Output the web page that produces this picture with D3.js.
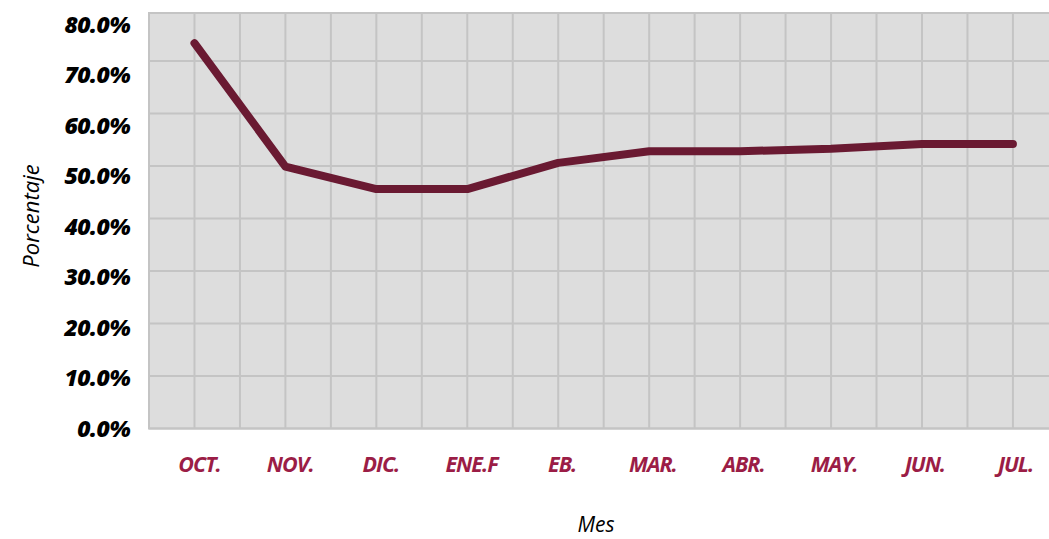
<!DOCTYPE html>
<html>
<head>
<meta charset="utf-8">
<script src="https://cdn.jsdelivr.net/npm/d3@7"></script>
<style>
  html, body { margin: 0; padding: 0; background: #ffffff; }
  svg { display: block; }
</style>
</head>
<body>
<svg id="chart" width="1049" height="539"></svg>
<script>
// ---- data ----
const months = ["OCT.", "NOV.", "DIC.", "ENE.F", "EB.", "MAR.", "ABR.", "MAY.", "JUN.", "JUL."];
const values = [73.4, 49.9, 45.6, 45.6, 50.6, 52.8, 52.8, 53.3, 54.2, 54.2];
const yTicks = [0, 10, 20, 30, 40, 50, 60, 70, 80];
const yTitle = "Porcentaje";
const xTitle = "Mes";

// ---- layout ----
const W = 1049, H = 539;
const plotLeft = 149, plotTop = 13, plotBottom = 428.5, plotRight = W;
const svg = d3.select("#chart");

const x = d3.scalePoint().domain(months).range([plotLeft, plotLeft + 20 * 45.47]).padding(0.5);
const step = x.step();
const y = d3.scaleLinear().domain([0, 80]).range([plotBottom, 8.5]);
const yLab = d3.scaleLinear().domain([0, 80]).range([428, 24]);
const xLab = d3.scalePoint().domain(months).range([199, 1015]);

// background
svg.append("rect")
  .attr("x", plotLeft).attr("y", plotTop)
  .attr("width", plotRight - plotLeft + 5).attr("height", plotBottom - plotTop)
  .attr("fill", "#dddddd")
  .attr("stroke", "#c4c4c4").attr("stroke-width", 2);

// vertical gridlines: at each category and between categories
const vLines = [];
months.forEach(m => { vLines.push(x(m) - step / 2); vLines.push(x(m)); });
svg.append("g").selectAll("line").data(vLines.filter(v => v > plotLeft + 1)).join("line")
  .attr("x1", d => d).attr("x2", d => d)
  .attr("y1", plotTop).attr("y2", plotBottom)
  .attr("stroke", "#c4c4c4").attr("stroke-width", 2);

// horizontal gridlines
svg.append("g").selectAll("line").data(yTicks.filter(t => y(t) > plotTop + 1)).join("line")
  .attr("x1", plotLeft).attr("x2", plotRight)
  .attr("y1", d => y(d)).attr("y2", d => y(d))
  .attr("stroke", "#c4c4c4").attr("stroke-width", 2);

// y axis labels
const yAxis = d3.axisLeft(yLab).tickValues(yTicks).tickSize(0).tickPadding(0)
  .tickFormat(d => d3.format(".1f")(d) + "%");
const gy = svg.append("g").attr("transform", "translate(130,0)").call(yAxis);
gy.select(".domain").remove();
gy.selectAll("text")
  .attr("font-family", "'Open Sans', 'Noto Sans', sans-serif")
  .attr("font-size", 23).attr("font-weight", 800).attr("font-style", "italic")
  .attr("fill", "#000").attr("dy", "0.36em")
  .attr("letter-spacing", -0.6);

// x axis labels
const xAxis = d3.axisBottom(xLab).tickSize(0).tickPadding(0);
const gx = svg.append("g").attr("transform", "translate(0,472)").call(xAxis);
gx.select(".domain").remove();
gx.selectAll("text")
  .attr("font-family", "'Open Sans', 'Noto Sans', sans-serif")
  .attr("font-size", 21.5).attr("font-weight", 700).attr("font-style", "italic")
  .attr("fill", "#9b1d46").attr("dy", 0).attr("y", 0)
  .attr("letter-spacing", -1);

// line
const line = d3.line().x((d, i) => x(months[i])).y(d => y(d));
svg.append("path").datum(values)
  .attr("d", line)
  .attr("fill", "none")
  .attr("stroke", "#6a1a32").attr("stroke-width", 8)
  .attr("stroke-linecap", "round").attr("stroke-linejoin", "round");

// axis titles
svg.append("text")
  .attr("transform", "translate(39,216) rotate(-90)")
  .attr("text-anchor", "middle")
  .attr("font-family", "'Open Sans', 'Noto Sans', sans-serif")
  .attr("font-size", 22).attr("font-style", "italic").attr("font-weight", 400)
  .attr("fill", "#000").text(yTitle);

svg.append("text")
  .attr("x", 596).attr("y", 532)
  .attr("text-anchor", "middle")
  .attr("font-family", "'Open Sans', 'Noto Sans', sans-serif")
  .attr("font-size", 21).attr("font-style", "italic").attr("font-weight", 400)
  .attr("fill", "#000").text(xTitle);
</script>
</body>
</html>
